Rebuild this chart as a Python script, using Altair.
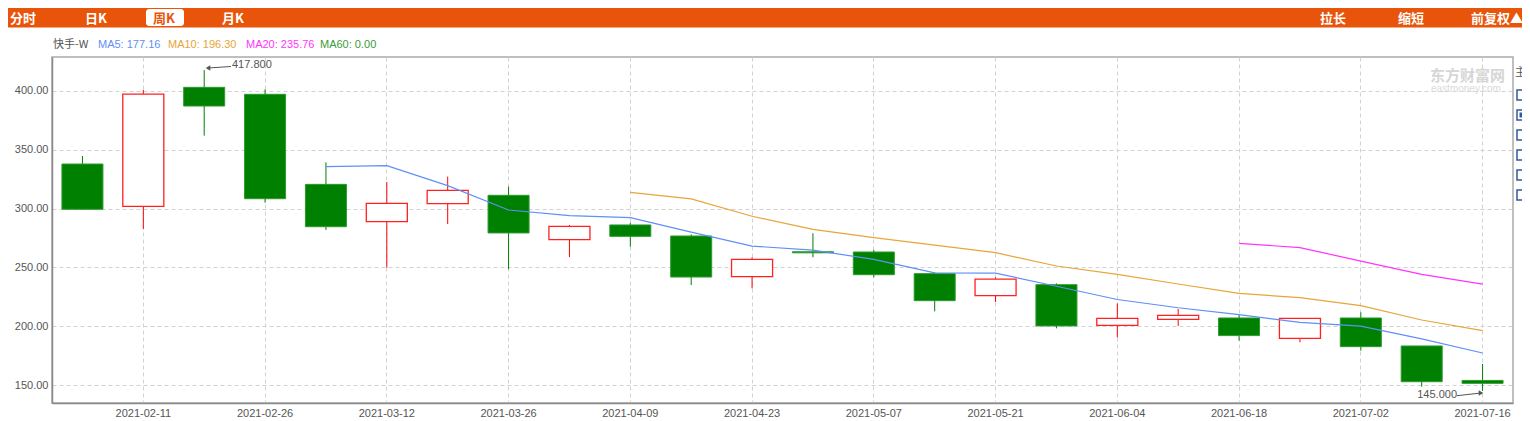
import altair as alt
import pandas as pd

# ---------------- data ----------------
dates = ["2021-02-05", "2021-02-11", "2021-02-19", "2021-02-26", "2021-03-05", "2021-03-12",
         "2021-03-19", "2021-03-26", "2021-04-01", "2021-04-09", "2021-04-16", "2021-04-23",
         "2021-04-30", "2021-05-07", "2021-05-14", "2021-05-21", "2021-05-28", "2021-06-04",
         "2021-06-11", "2021-06-18", "2021-06-25", "2021-07-02", "2021-07-09", "2021-07-16"]
opens = [337.9, 301.9, 403.1, 397.2, 320.6, 288.9, 304.2, 311.3, 273.6, 286.1, 276.7, 242.1,
         263.3, 263.1, 244.7, 226.0, 235.3, 200.7, 205.8, 207.0, 189.7, 207.0, 183.2, 153.9]
closes = [299.4, 397.4, 387.2, 308.4, 284.6, 304.5, 315.5, 279.3, 284.9, 276.4, 241.8, 256.9,
          262.4, 243.8, 221.7, 240.1, 200.2, 206.7, 209.2, 192.0, 206.7, 182.6, 152.8, 151.4]
highs = [344.7, 400.9, 417.8, 401.4, 339.3, 322.6, 327.2, 318.7, 286.1, 288.0, 278.1, 258.6,
         279.0, 264.8, 245.8, 241.6, 236.4, 219.4, 214.6, 209.5, 206.7, 211.8, 183.2, 167.9]
lows = [299.4, 282.7, 362.0, 305.0, 281.8, 249.8, 286.9, 248.4, 258.8, 267.6, 235.0, 232.2,
        258.6, 241.6, 212.6, 220.6, 198.2, 190.5, 200.2, 187.7, 186.3, 179.2, 148.6, 145.0]
ma5 = [None, None, None, None, 335.7, 336.5, 319.5, 298.8, 294.0, 292.3, 280.0, 268.1,
       264.7, 256.8, 245.4, 245.1, 234.0, 222.7, 215.7, 209.9, 203.2, 200.0, 189.2, 177.2]
ma10 = [None] * 9 + [313.8, 308.2, 293.5, 282.4, 275.3, 269.0, 262.5, 251.2, 244.1, 235.9,
                     227.9, 224.3, 217.5, 205.3, 196.3]
ma20 = [None] * 19 + [270.5, 266.8, 255.4, 244.1, 235.8]

x_label_dates = dates[1::2]
y_ticks = [150, 200, 250, 300, 350, 400]
ma_names = ["MA5", "MA10", "MA20"]
ma_colors = ["#5f8ff7", "#e8a53a", "#ff33ff"]

top_tabs = ["分时", "日K", "周K", "月K"]
top_right = ["拉长", "缩短", "前复权▲"]
legend_items = ["快手-W", "MA5: 177.16", "MA10: 196.30", "MA20: 235.76", "MA60: 0.00"]
legend_colors = ["#555555", "#5f8ff7", "#e8a53a", "#ff33ff", "#3a9a3a"]

# ---------------- tables ----------------
candles = pd.DataFrame({"date": dates, "open": opens, "close": closes,
                        "high": highs, "low": lows})
candles["up"] = candles["close"] >= candles["open"]

ma_rows = []
for name, series in zip(ma_names, [ma5, ma10, ma20]):
    for d, v in zip(dates, series):
        if v is not None:
            ma_rows.append({"date": d, "ma": name, "value": v})
ma_df = pd.DataFrame(ma_rows)

one = pd.DataFrame({"a": [0]})

W, H = 1461, 346
FONT = "Arial, 'Liberation Sans', 'Noto Sans CJK SC', sans-serif"
CJK = "'Noto Sans CJK SC', Arial, sans-serif"

x_enc = alt.X("date:N", sort=dates,
              scale=alt.Scale(domain=dates, paddingInner=0.326, paddingOuter=0.163),
              axis=alt.Axis(values=x_label_dates, labelAngle=0, title=None, grid=True,
                            bandPosition=0.5, ticks=False, labelPadding=4))
y_scale = alt.Scale(domain=[134.7, 428.9], nice=False, zero=False)
y_axis = alt.Axis(values=y_ticks, format=".2f", title=None, grid=True, ticks=False,
                  labelPadding=4)


def Y(field):
    return alt.Y(field, scale=y_scale, axis=y_axis)


wicks = alt.Chart(candles).mark_rule(strokeWidth=1).encode(
    x=x_enc, y=Y("low:Q"), y2="high:Q",
    color=alt.condition("datum.up", alt.value("#ff0000"), alt.value("#008000")))

up_bodies = alt.Chart(candles).transform_filter("datum.up").mark_bar(
    fill="white", stroke="#ff2020", strokeWidth=1.3).encode(
    x=x_enc, y=Y("open:Q"), y2="close:Q")

down_bodies = alt.Chart(candles).transform_filter("!datum.up").mark_bar(
    fill="#008000", stroke="#2e9a2e", strokeWidth=1).encode(
    x=x_enc, y=Y("open:Q"), y2="close:Q")

lines = alt.Chart(ma_df).mark_line(strokeWidth=1.2).encode(
    x=x_enc, y=Y("value:Q"),
    color=alt.Color("ma:N", scale=alt.Scale(domain=ma_names, range=ma_colors), legend=None))


# ------------- decorations (pixel positions relative to the plot area) -------------
def txt(s, x, y, color, size=11, weight="normal", align="left", font=FONT):
    return alt.Chart(one).mark_text(text=s, align=align, baseline="middle", fontSize=size,
                                    fontWeight=weight, font=font, color=color).encode(
        x=alt.value(x), y=alt.value(y))


def rect(x, x2, y, y2, fill, stroke=None, sw=0, r=0):
    kw = dict(fill=fill, cornerRadius=r)
    if stroke:
        kw.update(stroke=stroke, strokeWidth=sw)
    return alt.Chart(one).mark_rect(**kw).encode(
        x=alt.value(x), x2=alt.value(x2), y=alt.value(y), y2=alt.value(y2))


def seg(x, y, x2, y2, color="#555555", sw=1):
    return alt.Chart(one).mark_rule(color=color, strokeWidth=sw).encode(
        x=alt.value(x), y=alt.value(y), x2=alt.value(x2), y2=alt.value(y2))


def tri(x, y, shape, color="#555555", size=28):
    return alt.Chart(one).mark_point(shape=shape, filled=True, color=color, size=size,
                                     opacity=1).encode(x=alt.value(x), y=alt.value(y))


ORANGE = "#e8540a"
deco = []
# top bar
deco.append(rect(-44, 1470, -49, -29.5, ORANGE))
deco.append(rect(94, 132, -48, -31, "white", r=3))
tab_x = [-42, 33, 101, 170]
for t, xx in zip(top_tabs, tab_x):
    deco.append(txt(t, xx, -38.5, ORANGE if t == "周K" else "white", size=13,
                    weight="bold", font=CJK))
for t, xx in zip(top_right, [1268, 1346, 1419]):
    deco.append(txt(t, xx, -38.5, "white", size=13, weight="bold", font=CJK))

# legend row
for t, c, xx in zip(legend_items, legend_colors, [1, 46, 116, 194, 268]):
    deco.append(txt(t, xx, -12, c, size=11, font=CJK if t.startswith("快") else FONT))

# watermark
deco.append(txt("东方财富网", 1378, 18.5, "#d6d6d6", size=15, weight="bold", font=CJK))
deco.append(txt("eastmoney.com", 1379, 31.5, "#dadada", size=10, font=FONT))

# right side panel (cut off at the right edge, as in the reference)
deco.append(txt("主", 1463, 16, "#555555", size=11, font=CJK))
for yy in [33, 53, 73, 93, 113, 133]:
    deco.append(rect(1465, 1475, yy, yy + 10, "white", stroke="#2f5a9e", sw=1.5))
deco.append(rect(1467.5, 1472.5, 55.5, 60.5, "#2f5a9e"))

# annotations of extreme values
deco.append(seg(179, 9.5, 156, 11))
deco.append(tri(156, 11, "triangle-left"))
deco.append(txt("417.800", 180, 8, "#555555", size=11))
deco.append(seg(1405, 338.7, 1429, 336))
deco.append(tri(1429, 336, "triangle-right"))
deco.append(txt("145.000", 1405, 338, "#555555", size=11, align="right"))

chart = alt.layer(wicks, up_bodies, down_bodies, lines, *deco).properties(
    width=W, height=H,
    padding={"left": 44, "top": 49, "right": 9, "bottom": 18},
    autosize=alt.AutoSizeParams(type="none"),
    background="white",
).configure_view(
    stroke="#ababab", strokeWidth=1.5
).configure_axis(
    labelFont=FONT, labelFontSize=11, labelColor="#555555",
    domainColor="#8a8a8a", domainWidth=1.5,
    gridColor="#d2d2d2", gridDash=[4, 3], gridWidth=1,
)

chart.save("out.html", embed_options={"renderer": "svg", "actions": False})
